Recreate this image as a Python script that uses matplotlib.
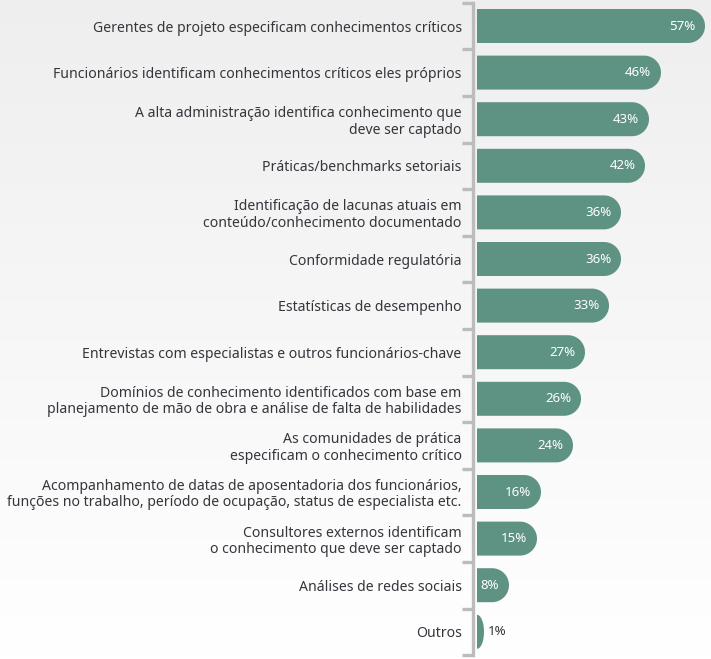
import numpy as np
import matplotlib
matplotlib.use('Agg')
import matplotlib.pyplot as plt
from matplotlib.patches import Polygon

labels = [
    'Gerentes de projeto especificam conhecimentos críticos',
    'Funcionários identificam conhecimentos críticos eles próprios',
    'A alta administração identifica conhecimento que\ndeve ser captado',
    'Práticas/benchmarks setoriais',
    'Identificação de lacunas atuais em\nconteúdo/conhecimento documentado',
    'Conformidade regulatória',
    'Estatísticas de desempenho',
    'Entrevistas com especialistas e outros funcionários-chave',
    'Domínios de conhecimento identificados com base em\nplanejamento de mão de obra e análise de falta de habilidades',
    'As comunidades de prática\nespecificam o conhecimento crítico',
    'Acompanhamento de datas de aposentadoria dos funcionários,\nfunções no trabalho, período de ocupação, status de especialista etc.',
    'Consultores externos identificam\no conhecimento que deve ser captado',
    'Análises de redes sociais',
    'Outros',
]
values = [57, 46, 43, 42, 36, 36, 33, 27, 26, 24, 16, 15, 8, 1]

plt.rcParams['font.family'] = ['Noto Sans', 'DejaVu Sans']
bar_color = '#5e9384'
axis_gray = '#bcbcbf'
text_color = '#33363b'

W, H, DPI = 711, 659, 100
fig = plt.figure(figsize=(W / DPI, H / DPI), dpi=DPI)

# soft gray-to-white background
bg = fig.add_axes([0, 0, 1, 1], zorder=-1)
grad = np.linspace(0.935, 1.0, 256).reshape(-1, 1)
bg.imshow(np.dstack([grad, grad, grad * 1.003]).clip(0, 1), aspect='auto',
          extent=[0, 1, 0, 1], origin='upper')
bg.axis('off')

n = len(values)
row = 46.6
top = 26 - row / 2
x0 = 477
px_per_unit = 4.0
ax_w = W - x0
ax_h = row * n
ax = fig.add_axes([x0 / W, 1 - (top + ax_h) / H, ax_w / W, ax_h / H])
ax.patch.set_alpha(0)
ax.set_xlim(0, ax_w / px_per_unit)
ax.set_ylim(n - 0.5, -0.5)

bar_h = 34 / row  # in row units
rad_px = 17
t = np.linspace(-np.pi / 2, np.pi / 2, 60)
for i, v in enumerate(values):
    w_px = v * px_per_unit
    rx_px = min(rad_px, w_px + 3)
    rx = rx_px / px_per_unit
    cx = max(v - rx, 0)
    hh = bar_h / 2
    pts = [(0, i + hh)]
    pts += list(zip(cx + rx * np.cos(t[::-1]), i + hh * np.sin(t[::-1])))
    pts += [(0, i - hh)]
    ax.add_patch(Polygon(pts, closed=True, facecolor=bar_color, edgecolor='none'))
    if v >= 5:
        ax.annotate(f'{v}%', (v, i), xytext=(-7, 0), textcoords='offset points',
                    ha='right', va='center', color='white', fontsize=9.5,
                    fontweight='semibold')
    else:
        ax.annotate(f'{v}%', (cx + rx, i), xytext=(3, 0), textcoords='offset points',
                    ha='left', va='center', color=text_color, fontsize=9.5,
                    fontweight='bold')

for s in ['top', 'right', 'bottom']:
    ax.spines[s].set_visible(False)
ax.spines['left'].set_position(('outward', 3))
ax.spines['left'].set_color(axis_gray)
ax.spines['left'].set_linewidth(2.4)
ax.set_xticks([])
ax.set_yticks(range(n))
ax.set_yticklabels(labels, fontsize=10.1, color=text_color, linespacing=1.12)
ax.tick_params(axis='y', which='major', length=0, pad=8)
ax.set_yticks(np.arange(-0.5, n, 1), minor=True)
ax.tick_params(axis='y', which='minor', length=8, width=2.4, color=axis_gray)

fig.savefig('out.png', dpi=DPI)
